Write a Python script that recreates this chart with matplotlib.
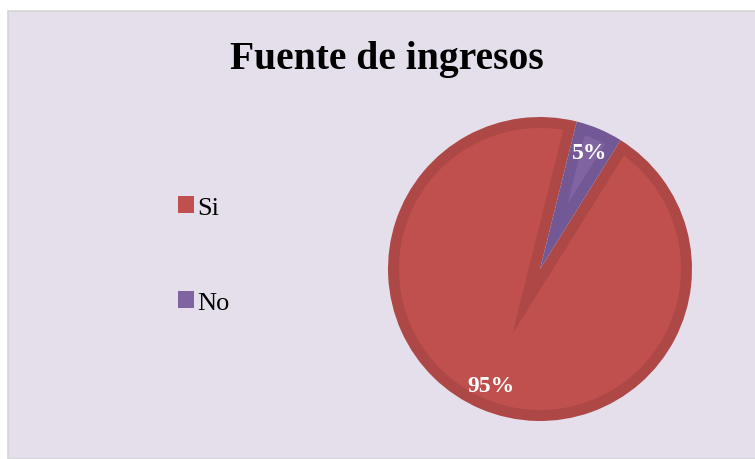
import numpy as np
import matplotlib
matplotlib.use("Agg")
import matplotlib.pyplot as plt
from matplotlib.patches import Rectangle, Polygon, Patch

# data
categorias = ["Si", "No"]
valores = [95, 5]
colores = ["#C0504D", "#8064A2"]
bordes = ["#AE4846", "#725895"]
titulo = "Fuente de ingresos"

plt.rcParams["font.family"] = ["Liberation Serif", "DejaVu Serif"]

W, H = 755, 460
fig = plt.figure(figsize=(W / 100, H / 100), dpi=100, facecolor="white")

# chart area
fig.patches.append(Rectangle((8 / W, 0), 1, 1 - 12 / H, transform=fig.transFigure,
                             facecolor="#E5DFEC", edgecolor="#D4D4D4", lw=1.2, zorder=-5))

fig.text(387 / W, 1 - 69 / H, titulo, ha="center", va="baseline",
         fontsize=28.5, fontweight="bold")

# pie axes: centre (540, 270) px, radius 152 px
cx, cy, R = 540, 270, 152
ax = fig.add_axes([(cx - R) / W, (H - cy - R) / H, 2 * R / W, 2 * R / H])
ax.set_facecolor("none")

wedges, textos, autotextos = ax.pie(
    valores, colors=bordes, startangle=58, counterclock=False,
    autopct="%1.0f%%", pctdistance=0.83,
    wedgeprops=dict(linewidth=0),
    textprops=dict(color="white", fontsize=17, fontweight="bold"))
ax.set_xlim(-1, 1)
ax.set_ylim(-1, 1)

# inner lighter face (bevel look)
d = 11 / R
for w, c in zip(wedges, colores):
    t1, t2 = w.theta1, w.theta2
    half = np.radians((t2 - t1) / 2)
    mid = np.radians(t1) + half
    px, py = w.center
    t = d / np.sin(half)
    vx, vy = px + t * np.cos(mid), py + t * np.sin(mid)
    rr = w.r - d
    a = np.degrees(np.arcsin(d / rr))
    ang = np.radians(np.linspace(t1 + a, t2 - a, 200))
    pts = [(vx, vy)] + list(zip(px + rr * np.cos(ang), py + rr * np.sin(ang)))
    ax.add_patch(Polygon(pts, closed=True, facecolor=c, edgecolor="none", zorder=w.get_zorder() + 0.1))

for t in autotextos:
    t.set_zorder(5)

handles = [Patch(facecolor=c, edgecolor="none") for c in colores]
fig.legend(handles, categorias, loc="upper left", bbox_to_anchor=(165 / W, 1 - 184 / H),
           frameon=False, fontsize=19, handlelength=0.58, handleheight=0.58,
           handletextpad=0.15, labelspacing=2.75, borderpad=0)

fig.savefig("out.png", dpi=100, facecolor=fig.get_facecolor())
